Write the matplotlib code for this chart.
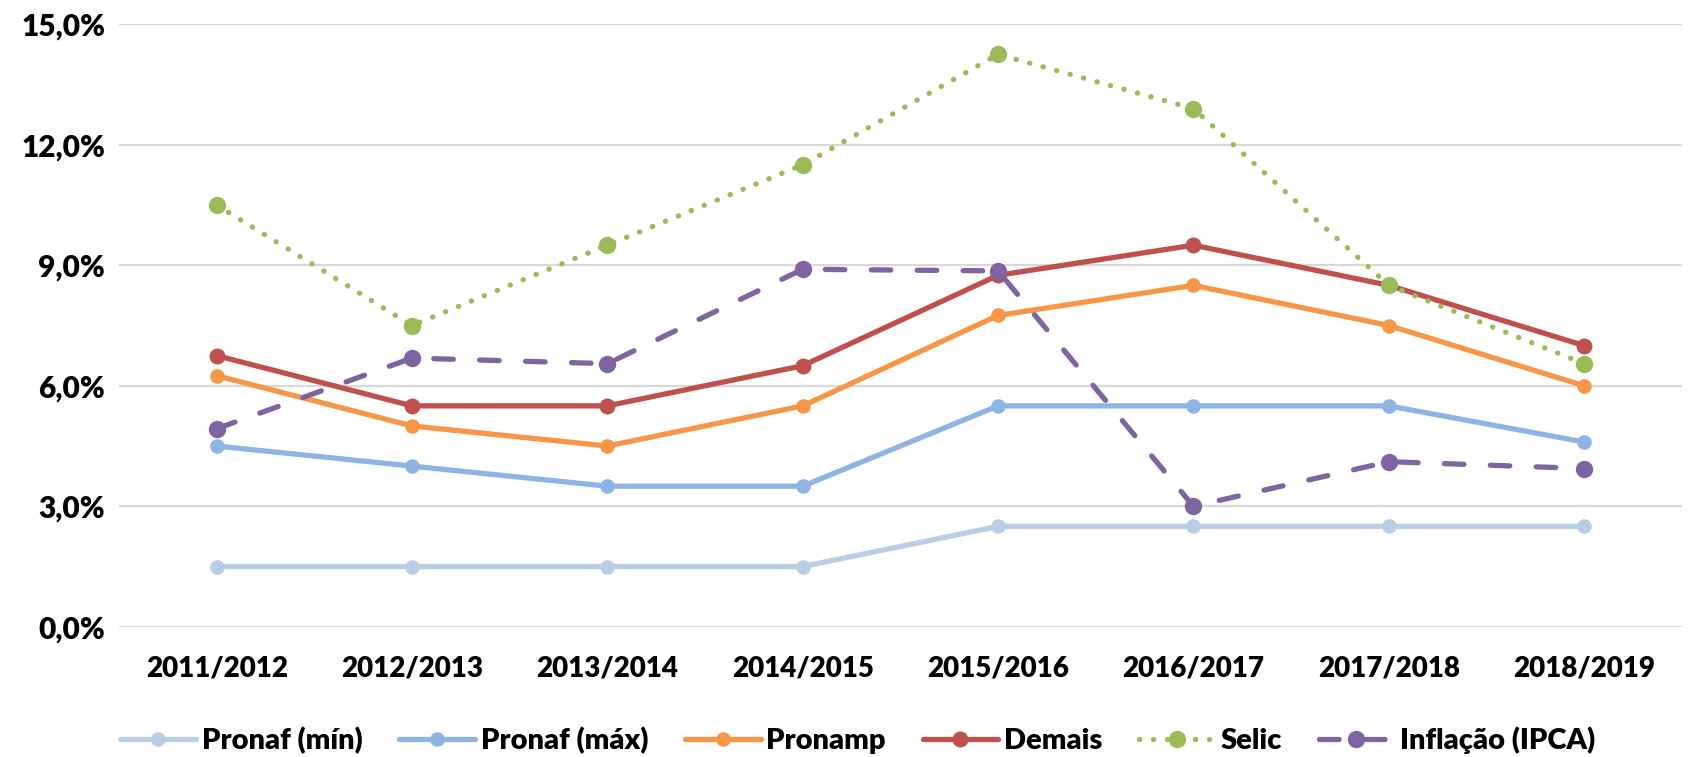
import matplotlib
matplotlib.use("Agg")
import matplotlib.pyplot as plt
from matplotlib.ticker import FuncFormatter

categories = ["2011/2012", "2012/2013", "2013/2014", "2014/2015",
              "2015/2016", "2016/2017", "2017/2018", "2018/2019"]
pronaf_min = [1.5, 1.5, 1.5, 1.5, 2.5, 2.5, 2.5, 2.5]
pronaf_max = [4.5, 4.0, 3.5, 3.5, 5.5, 5.5, 5.5, 4.6]
pronamp = [6.25, 5.0, 4.5, 5.5, 7.75, 8.5, 7.5, 6.0]
demais = [6.75, 5.5, 5.5, 6.5, 8.75, 9.5, 8.5, 7.0]
selic = [10.5, 7.5, 9.5, 11.5, 14.25, 12.9, 8.5, 6.55]
ipca = [4.93, 6.69, 6.55, 8.9, 8.86, 3.0, 4.11, 3.94]
yticks = [0, 3, 6, 9, 12, 15]

plt.rcParams['font.family'] = ['Lato', 'DejaVu Sans']
W = 'heavy'

fig = plt.figure(figsize=(16.92, 7.57), dpi=100)
ax = fig.add_axes([0.0703, 0.172, 0.9237, 0.796])

x = list(range(len(categories)))
lw = 3.8
series = [
    ("Pronaf (mín)", pronaf_min, "#B9CDE5", "solid", 10.5),
    ("Pronaf (máx)", pronaf_max, "#8DB4E2", "solid", 10.5),
    ("Pronamp", pronamp, "#F79646", "solid", 10.5),
    ("Demais", demais, "#C0504D", "solid", 11.5),
    ("Selic", selic, "#9BBB59", "dot", 12.5),
    ("Inflação (IPCA)", ipca, "#8064A2", "dash", 12.5),
]
for name, vals, col, style, ms in series:
    line, = ax.plot(x, vals, color=col, lw=lw, marker='o', ms=ms,
                    markeredgewidth=0, label=name,
                    solid_capstyle='round', solid_joinstyle='round')
    if style == "dot":
        line.set_dashes((0.05, 2.6))
        line.set_dash_capstyle('round')
    elif style == "dash":
        line.set_dashes((3.7, 5.0))
        line.set_dash_capstyle('round')

ax.set_xlim(-0.5, len(categories) - 0.5)
ax.set_ylim(0, 15)
ax.set_yticks(yticks)
ax.yaxis.set_major_formatter(FuncFormatter(lambda v, p: f"{v:.1f}%".replace('.', ',')))
ax.set_xticks(x)
ax.set_xticklabels(categories)
ax.grid(axis='y', color='#D9D9D9', lw=1.6)
ax.set_axisbelow(True)
for s in ax.spines.values():
    s.set_visible(False)
ax.tick_params(axis='both', length=0, labelcolor='black')
ax.tick_params(axis='x', pad=21, labelsize=20)
ax.tick_params(axis='y', pad=10, labelsize=21.5)
for lab in ax.get_xticklabels() + ax.get_yticklabels():
    lab.set_fontweight(W)

leg = fig.legend(loc='center', bbox_to_anchor=(0.507, 0.0225), ncol=6,
                 frameon=False, fontsize=21, handlelength=2.6,
                 handletextpad=0.2, columnspacing=1.25)
for t in leg.get_texts():
    t.set_fontweight(W)

fig.savefig("out.png", dpi=100)
